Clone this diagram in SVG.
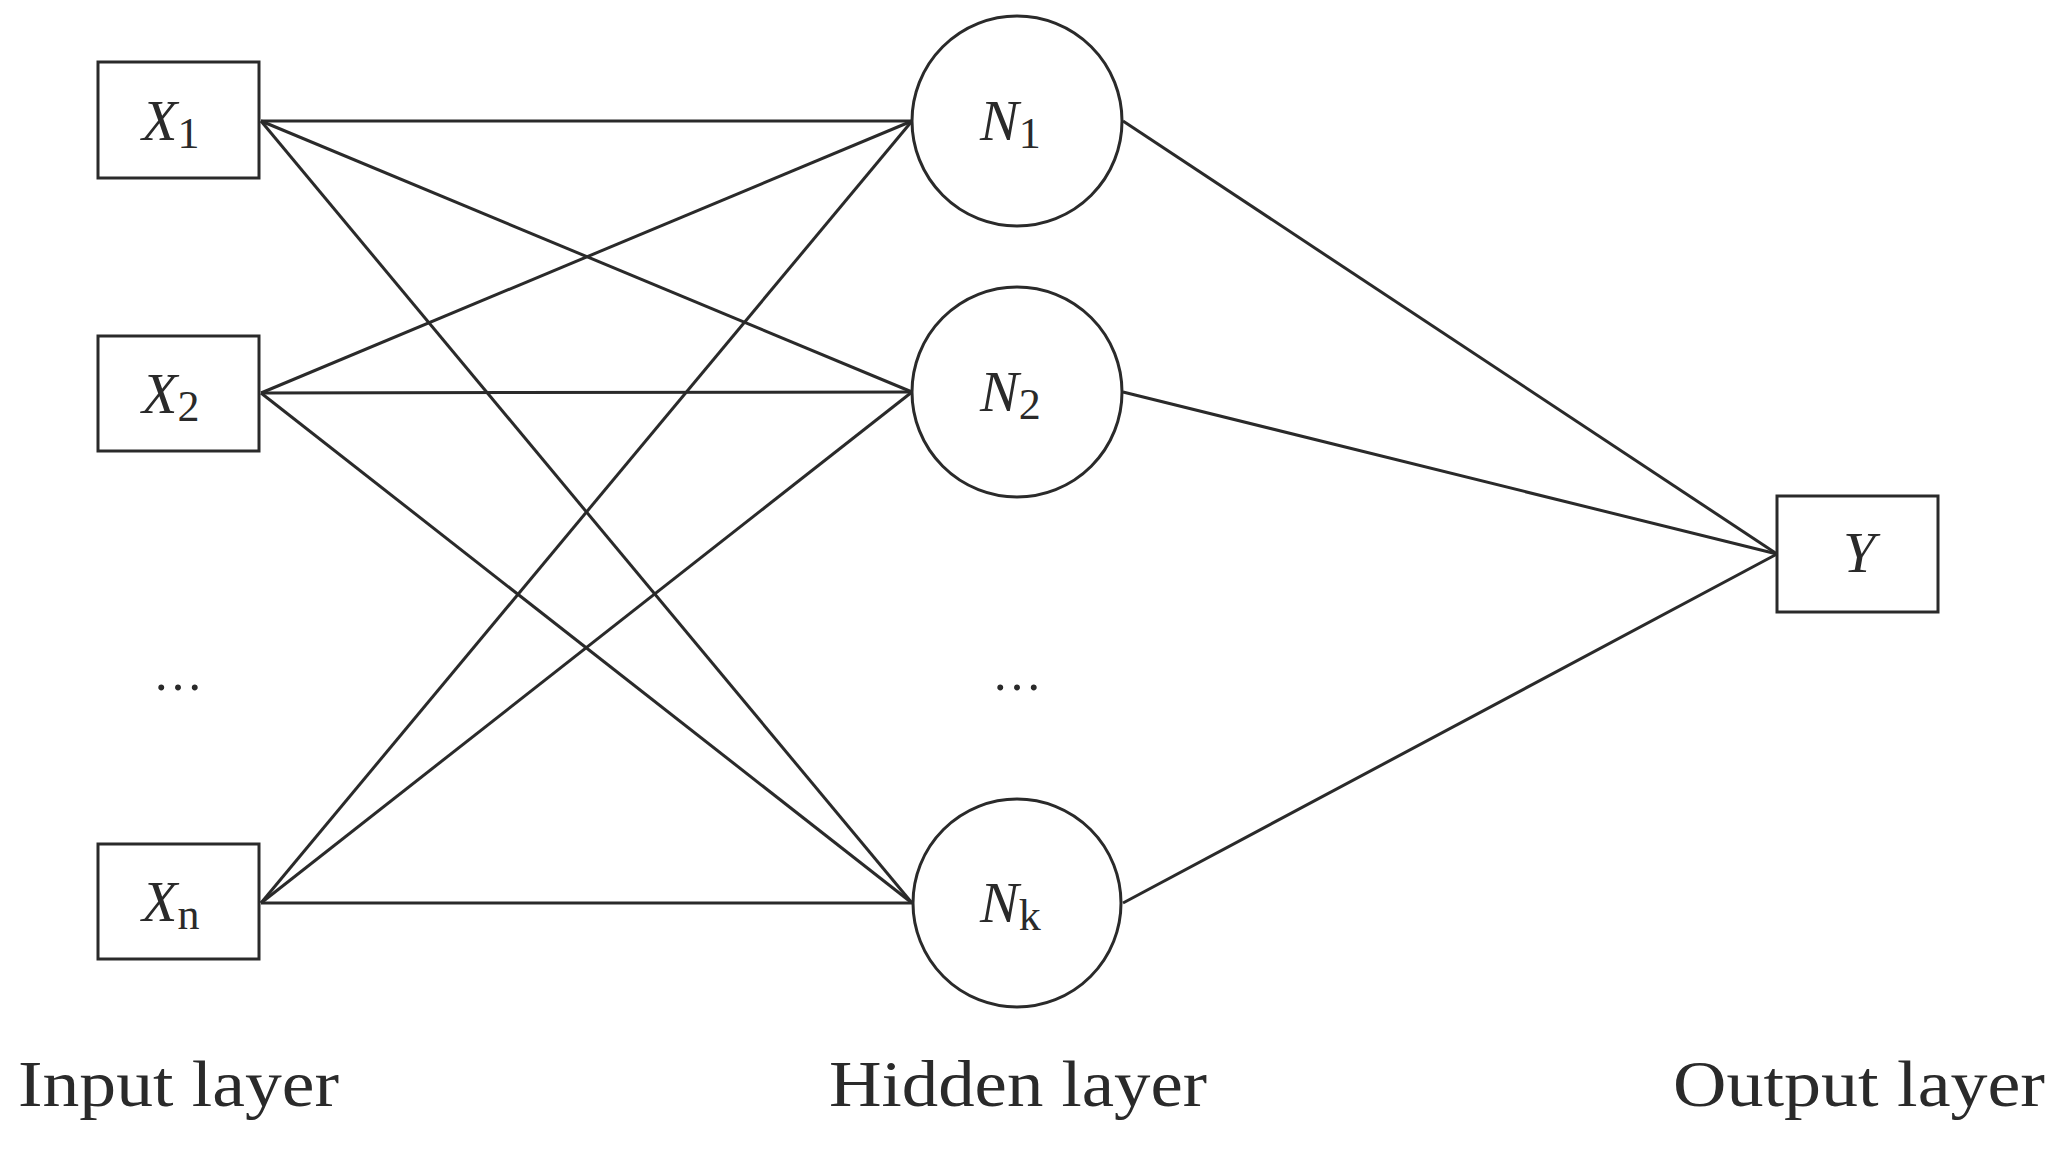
<svg xmlns="http://www.w3.org/2000/svg" width="2069" height="1153" viewBox="0 0 2069 1153">
<style>
.n{fill:#fff;stroke:#2a2a2a;stroke-width:3}
.c line{stroke:#2a2a2a;stroke-width:3}
.v{font-family:"Liberation Serif",serif;font-style:italic;font-size:58px;fill:#2a2a2a}
.s{font-style:normal;font-size:44px}
.l{font-family:"Liberation Serif",serif;font-size:66px;fill:#2a2a2a}
.d{font-family:"Liberation Serif",serif;font-size:50px;fill:#2a2a2a}
</style>
<rect width="2069" height="1153" fill="#fff"/>
<g class="c">
<line x1="261" y1="121" x2="912" y2="121"/>
<line x1="261" y1="121" x2="912" y2="392"/>
<line x1="261" y1="121" x2="912" y2="903"/>
<line x1="261" y1="393" x2="912" y2="121"/>
<line x1="261" y1="393" x2="912" y2="392"/>
<line x1="261" y1="393" x2="912" y2="903"/>
<line x1="261" y1="903" x2="912" y2="121"/>
<line x1="261" y1="903" x2="912" y2="392"/>
<line x1="261" y1="903" x2="912" y2="903"/>
<line x1="1123" y1="121" x2="1777" y2="554"/>
<line x1="1123" y1="392" x2="1777" y2="554"/>
<line x1="1123" y1="903" x2="1777" y2="554"/>
</g>
<g id="x1"><rect class="n" x="98" y="62" width="161" height="116"/><text class="v" x="142" y="140">X<tspan class="s" dy="8">1</tspan></text></g>
<g id="x2"><rect class="n" x="98" y="336" width="161" height="115"/><text class="v" x="142" y="413">X<tspan class="s" dy="8">2</tspan></text></g>
<g id="xn"><rect class="n" x="98" y="844" width="161" height="115"/><text class="v" x="142" y="921">X<tspan class="s" dy="8">n</tspan></text></g>
<g id="n1"><circle class="n" cx="1017" cy="121" r="105"/><text class="v" x="980" y="140">N<tspan class="s" dy="8">1</tspan></text></g>
<g id="n2"><circle class="n" cx="1017" cy="392" r="105"/><text class="v" x="980" y="411">N<tspan class="s" dy="8">2</tspan></text></g>
<g id="nk"><circle class="n" cx="1017" cy="903" r="104"/><text class="v" x="980" y="922">N<tspan class="s" dy="8">k</tspan></text></g>
<g id="y"><rect class="n" x="1777" y="496" width="161" height="116"/><text class="v" x="1843" y="572">Y</text></g>
<text class="d" x="178" y="690" text-anchor="middle">…</text>
<text class="d" x="1017" y="690" text-anchor="middle">…</text>
<text class="l" x="18" y="1106" textLength="321" lengthAdjust="spacingAndGlyphs">Input layer</text>
<text class="l" x="829" y="1106" textLength="378" lengthAdjust="spacingAndGlyphs">Hidden layer</text>
<text class="l" x="1673" y="1106" textLength="372" lengthAdjust="spacingAndGlyphs">Output layer</text>
</svg>
